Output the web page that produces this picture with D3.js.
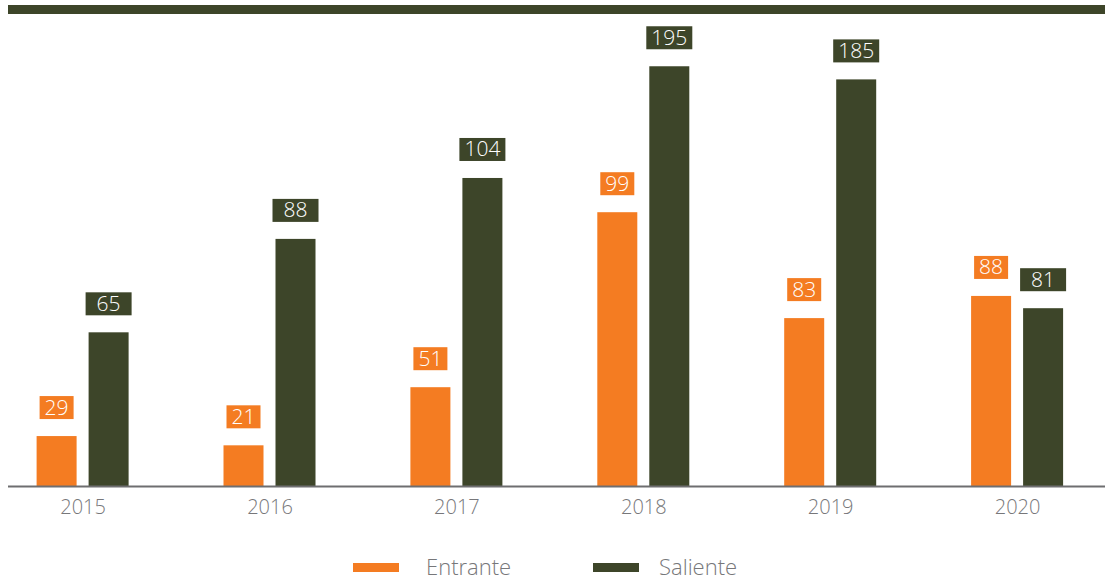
<!DOCTYPE html>
<html>
<head>
<meta charset="utf-8">
<script src="https://cdn.jsdelivr.net/npm/d3@7"></script>
<style>
  html, body { margin: 0; padding: 0; background: #ffffff; }
  svg { display: block; }
  text { font-family: "Open Sans", "Liberation Sans", sans-serif; font-weight: 300; }
</style>
</head>
<body>
<div id="chart"></div>
<script>
// ---- data ----
const years = ["2015", "2016", "2017", "2018", "2019", "2020"];
const seriesNames = ["Entrante", "Saliente"];
// bar heights as drawn in the source picture (same units as the labels)
const entranteBar = [23.2, 18.9, 45.9, 127.2, 78.0, 88.3];
const salienteBar = [71.4, 114.8, 143.1, 195.0, 188.9, 82.6];
// values printed on the labels
const entranteLabel = [29, 21, 51, 99, 83, 88];
const salienteLabel = [65, 88, 104, 195, 185, 81];

const W = 1106, H = 581;
const orange = "#F47C22";
const olive = "#3D4529";
const gray = "#77777a";

const svg = d3.select("#chart").append("svg")
  .attr("width", W).attr("height", H);

// top band
svg.append("rect").attr("x", 8).attr("y", 5).attr("width", 1097).attr("height", 9).attr("fill", olive);

const baseY = 486;
const y = d3.scaleLinear().domain([0, 200]).range([baseY, baseY - 430.5]);
const x0 = d3.scalePoint().domain(years).range([82.6, 1017.1]);
const x1 = d3.scaleBand().domain(seriesNames).range([-46, 46]).paddingInner(12 / 52).paddingOuter(0);

const rows = years.map((yr, i) => ({
  year: yr,
  items: [
    { key: "Entrante", bar: entranteBar[i], label: entranteLabel[i], color: orange, boxW: 34 },
    { key: "Saliente", bar: salienteBar[i], label: salienteLabel[i], color: olive, boxW: 46 }
  ]
}));

const g = svg.append("g");
const grp = g.selectAll("g.year").data(rows).join("g")
  .attr("class", "year")
  .attr("transform", d => `translate(${x0(d.year)},0)`);

grp.selectAll("rect.bar").data(d => d.items).join("rect")
  .attr("class", "bar")
  .attr("x", d => x1(d.key))
  .attr("width", x1.bandwidth())
  .attr("y", d => y(d.bar))
  .attr("height", d => baseY - y(d.bar))
  .attr("fill", d => d.color);

const lab = grp.selectAll("g.lab").data(d => d.items).join("g")
  .attr("class", "lab")
  .attr("transform", d => `translate(${x1(d.key) + x1.bandwidth() / 2},${y(d.bar) - 17})`);
lab.append("rect")
  .attr("x", d => -d.boxW / 2).attr("y", -23)
  .attr("width", d => d.boxW).attr("height", 23)
  .attr("fill", d => d.color);
lab.append("text")
  .attr("text-anchor", "middle")
  .attr("y", -4.5)
  .attr("font-size", 21)
  .attr("fill", "#ffffff")
  .text(d => d.label);

// baseline axis
const axis = d3.axisBottom(x0).tickSize(0).tickPadding(13);
const ax = svg.append("g").attr("transform", `translate(0,${baseY + 0.5})`).call(axis);
ax.select(".domain").remove();
ax.selectAll("text").attr("font-size", 20).attr("fill", gray)
  .attr("font-family", "'Open Sans', 'Liberation Sans', sans-serif")
  .attr("font-weight", 300);
svg.append("line").attr("x1", 8).attr("x2", 1105).attr("y1", baseY + 0.5).attr("y2", baseY + 0.5)
  .attr("stroke", "#6e6e70").attr("stroke-width", 2);

// legend
const legend = svg.append("g");
const legendItems = [
  { name: seriesNames[0], color: orange, x: 353, tx: 73 },
  { name: seriesNames[1], color: olive, x: 593, tx: 66 }
];
const li = legend.selectAll("g").data(legendItems).join("g")
  .attr("transform", d => `translate(${d.x},563)`);
li.append("rect").attr("width", 46).attr("height", 9).attr("fill", d => d.color);
li.append("text").attr("x", d => d.tx).attr("y", 12).attr("font-size", 22).attr("fill", gray)
  .text(d => d.name);
</script>
</body>
</html>
